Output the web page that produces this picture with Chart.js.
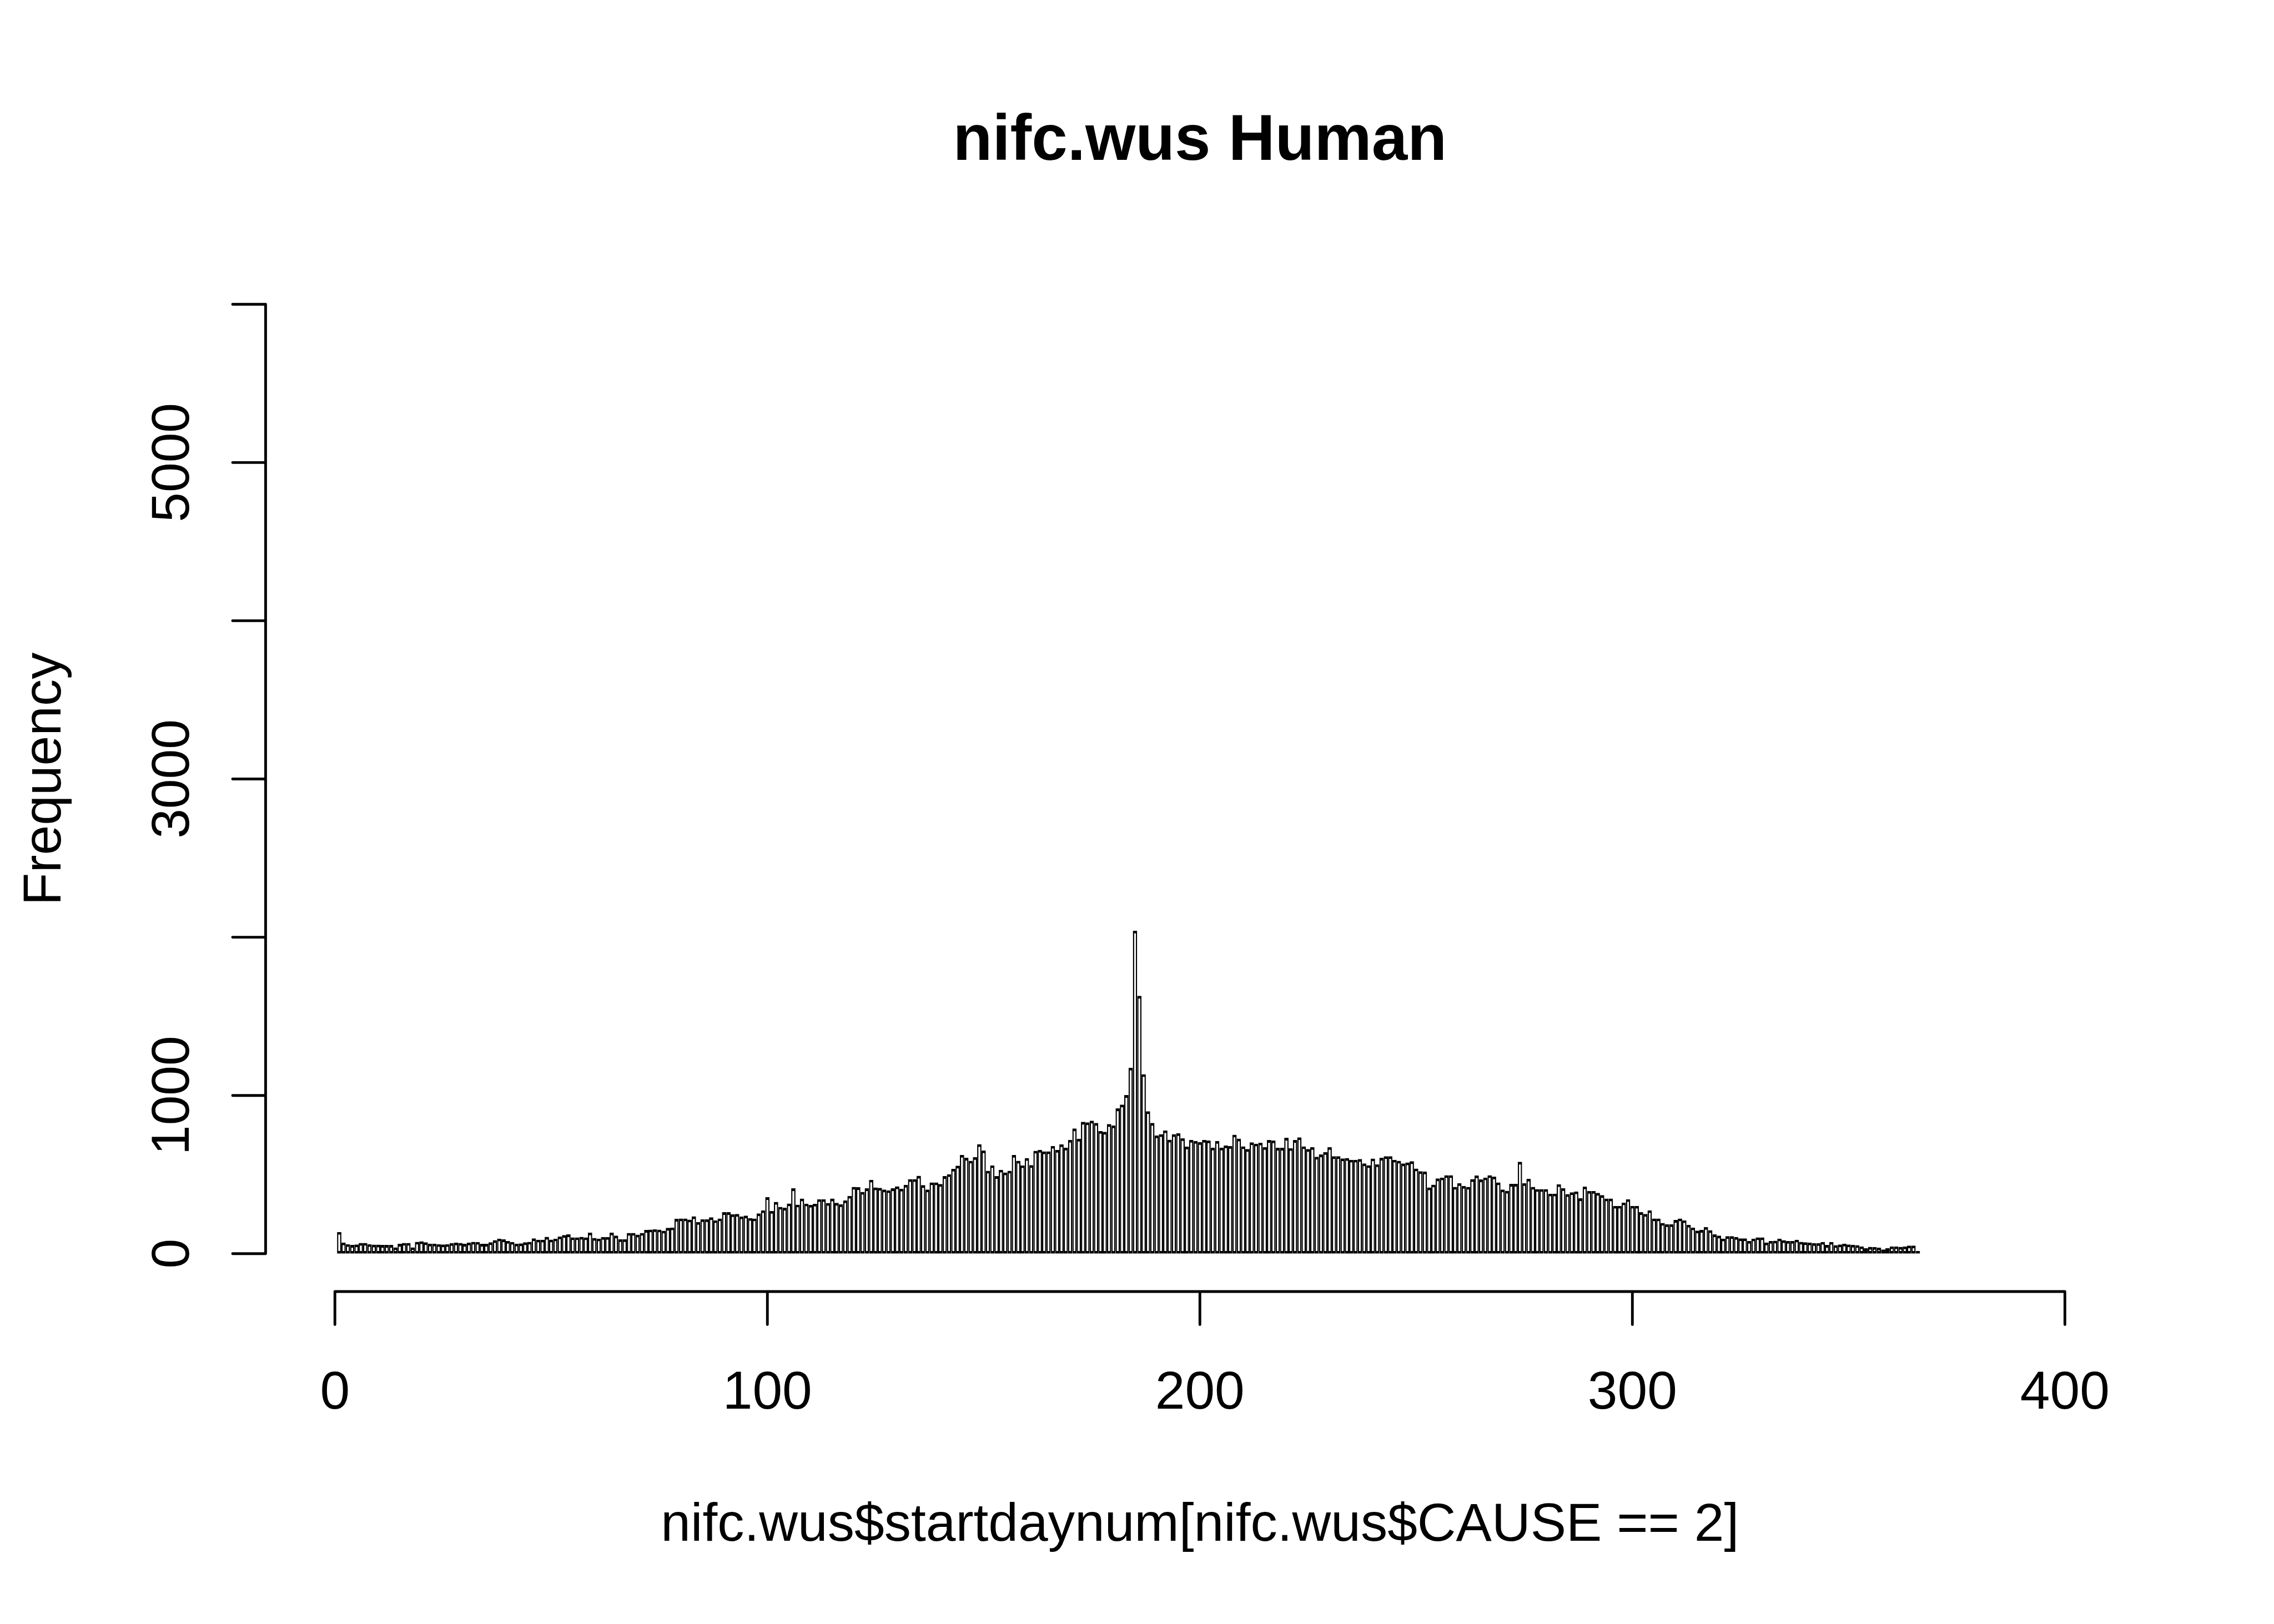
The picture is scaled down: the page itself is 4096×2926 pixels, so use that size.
<!DOCTYPE html>
<html>
<head>
<meta charset="utf-8">
<title>nifc.wus Human</title>
<script src="https://cdn.jsdelivr.net/npm/chart.js@4.4.0/dist/chart.umd.min.js"></script>
<style>
  html, body { margin: 0; padding: 0; background: #ffffff; }
  canvas { display: block; }
</style>
</head>
<body>
<canvas id="histChart" width="4096" height="2926"></canvas>
<script>
// fires per start day (bins of one day, day 1..366)
const counts = [
  137, 70, 60, 55, 58, 68, 68, 60, 57, 57,
  55, 55, 55, 40, 62, 68, 68, 40, 75, 78,
  72, 63, 63, 60, 58, 60, 66, 70, 68, 62,
  70, 75, 74, 62, 62, 72, 85, 95, 90, 80,
  74, 63, 65, 72, 75, 97, 88, 88, 106, 89,
  95, 108, 118, 122, 103, 103, 106, 103, 133, 99,
  95, 105, 105, 133, 114, 91, 91, 131, 131, 120,
  131, 150, 152, 154, 152, 145, 163, 165, 220, 222,
  222, 215, 236, 200, 217, 217, 230, 211, 222, 262,
  262, 249, 251, 235, 240, 225, 222, 254, 274, 357,
  270, 327, 296, 290, 317, 413, 310, 348, 316, 308,
  315, 344, 344, 320, 348, 321, 312, 336, 365, 422,
  420, 390, 413, 467, 418, 416, 405, 400, 413, 425,
  410, 435, 471, 471, 492, 433, 405, 450, 450, 440,
  490, 502, 536, 556, 624, 606, 587, 610, 692, 652,
  524, 558, 490, 530, 513, 524, 624, 587, 558, 604,
  560, 650, 656, 646, 646, 681, 656, 691, 670, 719,
  791, 726, 833, 830, 840, 826, 775, 770, 819, 810,
  918, 942, 1002, 1175, 2041, 1629, 1134, 900, 826, 747,
  755, 779, 720, 755, 761, 729, 677, 719, 712, 705,
  719, 715, 670, 712, 670, 684, 680, 752, 727, 678,
  661, 703, 695, 701, 673, 718, 715, 669, 669, 732,
  667, 718, 735, 678, 661, 673, 612, 627, 642, 673,
  616, 616, 602, 604, 593, 593, 598, 570, 559, 601,
  564, 606, 616, 616, 593, 587, 570, 576, 584, 538,
  521, 519, 418, 436, 475, 481, 496, 496, 422, 445,
  428, 422, 471, 494, 469, 481, 496, 487, 450, 405,
  397, 441, 441, 581, 445, 473, 422, 408, 408, 408,
  379, 379, 439, 414, 376, 388, 393, 350, 424, 396,
  396, 384, 370, 348, 348, 302, 302, 323, 344, 302,
  302, 262, 251, 274, 222, 222, 194, 186, 186, 213,
  222, 211, 182, 165, 146, 150, 168, 148, 122, 114,
  95, 111, 111, 105, 97, 97, 80, 95, 103, 103,
  70, 80, 82, 95, 85, 80, 80, 88, 75, 72,
  70, 66, 66, 74, 55, 74, 54, 58, 63, 58,
  56, 54, 46, 34, 43, 42, 38, 26, 34, 46,
  46, 43, 45, 51, 51, 0
];
const firstDay = 1;

const xTicks = [0, 100, 200, 300, 400];
const yTicks = [0, 1000, 2000, 3000, 4000, 5000, 6000];
// R leaves out the labels that would overlap
const yTickLabels = [0, 1000, 3000, 5000];

const titleText = 'nifc.wus Human';
const xTitle = 'nifc.wus$startdaynum[nifc.wus$CAUSE == 2]';
const yTitle = 'Frequency';

const FONT = '"Liberation Sans", Arial, Helvetica, sans-serif';
const S = 0.975; // reference -> window

// R style axes, set off from the data region
const rAxes = {
    id: 'rAxes',
    afterDraw(chart) {
        const ctx = chart.ctx;
        const xs = chart.scales.x;
        const ys = chart.scales.y;
        const area = chart.chartArea;
        const lw = 5 * S;
        const tick = 61 * S;
        const yAxisX = area.left - 128 * S;
        const xAxisY = area.bottom + 70 * S;
        const midX = (area.left + area.right) / 2;
        const midY = (area.top + area.bottom) / 2;

        ctx.save();
        ctx.strokeStyle = '#000';
        ctx.fillStyle = '#000';
        ctx.lineWidth = lw;
        ctx.lineCap = 'round';

        // y axis
        ctx.beginPath();
        ctx.moveTo(yAxisX, ys.getPixelForValue(yTicks[0]));
        ctx.lineTo(yAxisX, ys.getPixelForValue(yTicks[yTicks.length - 1]));
        yTicks.forEach(v => {
            const y = ys.getPixelForValue(v);
            ctx.moveTo(yAxisX, y);
            ctx.lineTo(yAxisX - tick, y);
        });
        ctx.stroke();

        // x axis
        ctx.beginPath();
        ctx.moveTo(xs.getPixelForValue(xTicks[0]), xAxisY);
        ctx.lineTo(xs.getPixelForValue(xTicks[xTicks.length - 1]), xAxisY);
        xTicks.forEach(v => {
            const x = xs.getPixelForValue(v);
            ctx.moveTo(x, xAxisY);
            ctx.lineTo(x, xAxisY + tick);
        });
        ctx.stroke();

        ctx.font = (99 * S) + 'px ' + FONT;
        ctx.textBaseline = 'alphabetic';
        ctx.textAlign = 'center';
        xTicks.forEach(v => {
            ctx.fillText(String(v), xs.getPixelForValue(v), xAxisY + 216 * S);
        });

        yTickLabels.forEach(v => {
            ctx.save();
            ctx.translate(yAxisX - 142 * S, ys.getPixelForValue(v));
            ctx.rotate(-Math.PI / 2);
            ctx.fillText(String(v), 0, 0);
            ctx.restore();
        });

        // axis titles
        ctx.fillText(xTitle, midX, 2847 * S);
        ctx.save();
        ctx.translate(112 * S, midY);
        ctx.rotate(-Math.PI / 2);
        ctx.fillText(yTitle, 0, 0);
        ctx.restore();

        // main title
        ctx.font = 'bold ' + (119 * S) + 'px ' + FONT;
        ctx.fillText(titleText, midX, 295 * S);
        ctx.restore();
    }
};

const ctx = document.getElementById('histChart').getContext('2d');
new Chart(ctx, {
    type: 'bar',
    data: {
        datasets: [{
            label: 'Frequency',
            data: counts.map((c, i) => ({ x: firstDay + i, y: c })),
            backgroundColor: '#ffffff',
            borderColor: '#000000',
            borderWidth: { top: 5 * S, left: 2.5 * S, right: 2.5 * S, bottom: 5 * S },
            borderSkipped: false,
            inflateAmount: 0,
            minBarLength: 5 * S, // keeps the empty last bin's outline on the baseline
            barPercentage: 1.0,
            categoryPercentage: 1.0
        }]
    },
    options: {
        responsive: false,
        animation: false,
        devicePixelRatio: 1,
        layout: {
            // data region of the reference: x 0..400, y 0..6000
            padding: { left: 618.7 * S, right: 4096 - 3814.7 * S, top: 562.3 * S, bottom: 2926 - 2316.7 * S }
        },
        scales: {
            x: { type: 'linear', min: 0, max: 400, offset: false, display: false },
            y: { min: 0, max: 6000, display: false }
        },
        plugins: {
            legend: { display: false },
            title: { display: false },
            tooltip: { enabled: false }
        }
    },
    plugins: [rAxes]
});
</script>
</body>
</html>
